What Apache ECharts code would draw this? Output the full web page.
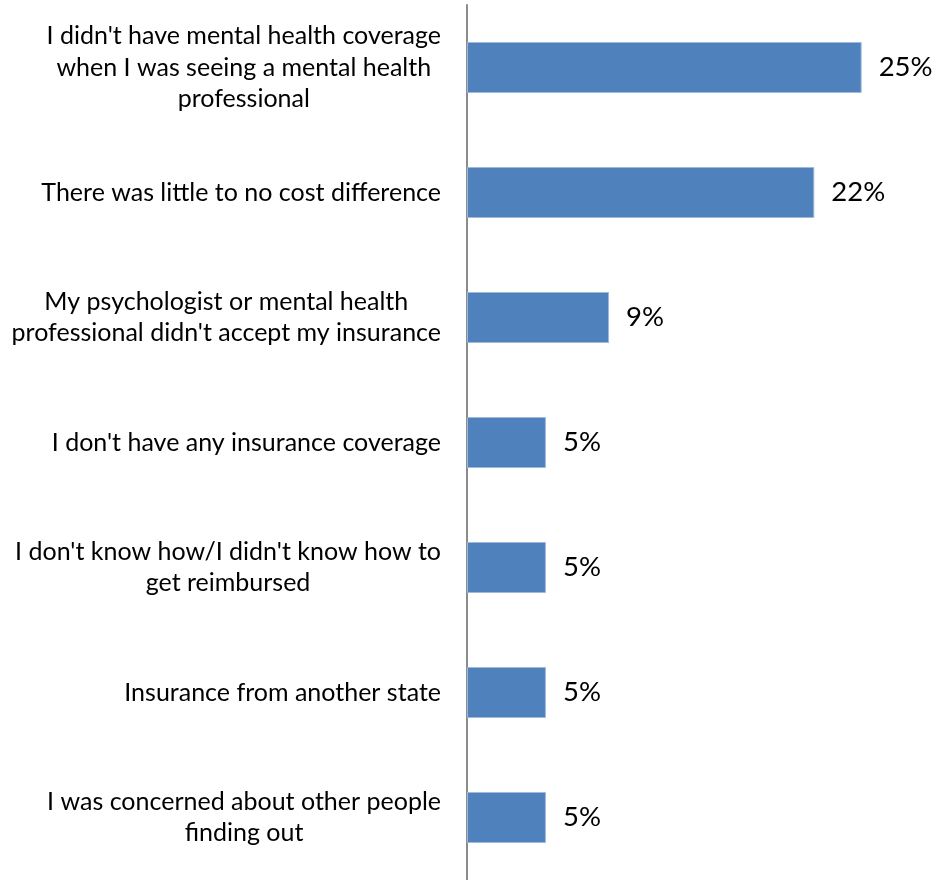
<!DOCTYPE html>
<html>
<head>
<meta charset="utf-8">
<script src="https://cdn.jsdelivr.net/npm/echarts@6/dist/echarts.min.js"></script>
<style>
html,body{margin:0;padding:0;background:#fff;}
#chart{width:936px;height:880px;}
</style>
</head>
<body>
<div id="chart"></div>
<script>
// reasons (top to bottom)
var reasons = [
	"I didn't have mental health coverage\nwhen I was seeing a mental health\nprofessional",
	"There was little to no cost difference",
	"My psychologist or mental health\nprofessional didn't accept my insurance",
	"I don't have any insurance coverage",
	"I don't know how/I didn't know how to\nget reimbursed",
	"Insurance from another state",
	"I was concerned about other people\nfinding out"
];
// percent of respondents
var percents = [25, 22, 9, 5, 5, 5, 5];

var chart = echarts.init(document.getElementById('chart'));
var option = {
	animation:false,
	grid:{
		left:467,
		top:5,
		width:442,
		height:878
	},
	xAxis:{
		type:'value',
		min:0,
		max:28,
		show:false,
		splitLine:{show:false}
	},
	yAxis:{
		type:'category',
		inverse:true,
		data:reasons,
		axisLine:{lineStyle:{color:'#8c8c8c',width:2}},
		axisTick:{show:false},
		axisLabel:{
			margin:26,
			formatter:function(v){
				return v.split('\n').map(function(s){return '{a|'+s+'}';}).join('\n');
			},
			rich:{
				a:{
					align:'center',
					color:'#000',
					fontFamily:'Lato',
					fontSize:25,
					lineHeight:31.5
				}
			}
		}
	},
	series:[
		{
			type:'bar',
			barWidth:51,
			data:percents,
			itemStyle:{
				color:'#4f81bd',
				borderColor:'#9db9dc',
				borderWidth:1
			},
			label:{
				show:true,
				position:'right',
				distance:17,
				color:'#000',
				fontFamily:'Lato',
				fontSize:27.5,
				formatter:'{c}%'
			}
		}
	]
};
chart.setOption(option);
</script>
</body>
</html>
